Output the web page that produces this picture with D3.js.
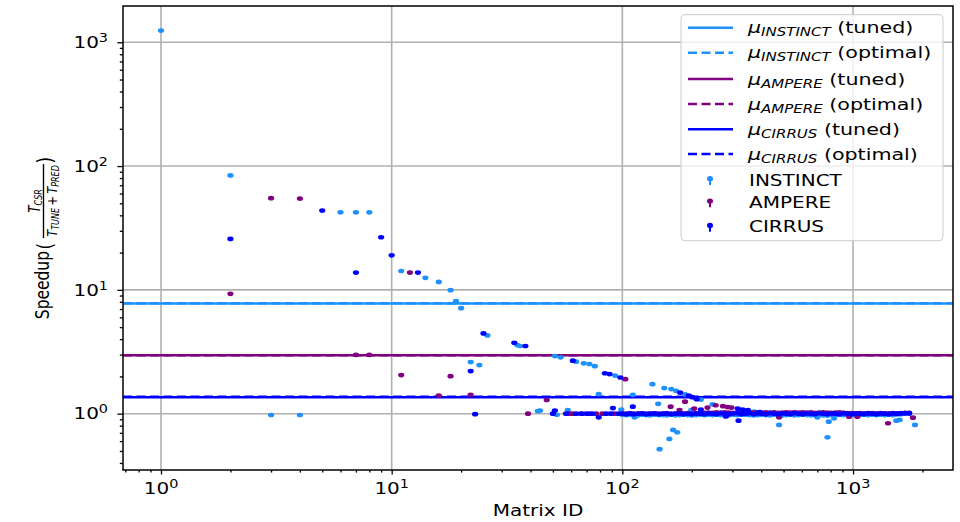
<!DOCTYPE html>
<html>
<head>
<meta charset="utf-8" />
<title>Speedup per matrix</title>
<script src="https://cdn.jsdelivr.net/npm/d3@7"></script>
<style>
  body { margin: 0; background: #fff; }
  text { font-family: "DejaVu Sans", sans-serif; fill: #000; }
</style>
</head>
<body>
<script>
// speedup of tuned format vs CSR, per matrix id (log-log)
var instinctIds  = [1, 2, 3, 4, 6, 7, 8, 11, 14, 16, 18, 19, 20, 22, 24, 26, 35, 36, 43, 44, 51, 52, 54, 58, 63, 68, 72, 76, 79, 93, 99,
                    111, 113, 135, 143, 145, 152, 160, 163, 166, 171, 173, 187, 199, 219, 246, 373, 478, 700, 775, 785, 828, 1540, 1593, 1855];
var instinctVals = [1242, 84, 0.976, 0.976, 42.3, 42.3, 42.3, 14.2, 12.5, 11.6, 9.95, 8.1, 7.12, 2.61, 2.47, 4.29, 3.58, 3.52, 1.05, 1.06, 2.92, 0.98, 2.85, 1.07, 2.63, 2.55, 2.52, 2.42, 1.44, 2.03, 1.08,
                    1.42, 0.935, 1.73, 1.20, 0.517, 1.61, 0.625, 1.58, 0.739, 1.53, 0.708, 1.43, 1.07, 1.30, 1.19, 1.04, 0.811, 0.935, 0.645, 0.862, 0.918, 0.878, 0.89, 0.811];

var ampereIds  = [2, 3, 4, 7, 8, 11, 12, 16, 18, 22, 39, 47, 59, 61, 66, 72, 77, 82, 92, 103,
                  162, 177, 187, 205, 234, 254, 273, 286, 297, 478, 961, 1044, 1418, 1819];
var ampereVals = [9.29, 55, 54.6, 2.99, 2.99, 2.05, 13.8, 1.40, 2.01, 1.42, 1.0, 1.29, 1.0, 1.0, 1.0, 1.0, 1.0, 1.0, 1.0, 1.90,
                  1.14, 1.07, 1.25, 1.10, 1.12, 1.17, 1.15, 1.13, 1.12, 0.935, 0.946, 0.946, 0.837, 0.928];

var cirrusIds  = [2, 5, 7, 9, 10, 13, 22, 23, 25, 34, 38, 50, 51, 57, 61, 63, 67, 70, 74, 79, 84, 85, 88, 89, 91, 96, 98,
                  111, 178, 194, 201, 210, 219, 281, 316, 319, 332, 350, 394];
var cirrusVals = [25.8, 43.7, 13.8, 26.6, 19.0, 13.8, 2.21, 0.99, 4.45, 3.74, 3.52, 1.0, 1.06, 1.0, 2.68, 1.0, 1.0, 1.0, 1.0, 0.935, 2.12, 1.0, 2.09, 1.0, 1.11, 1.0, 1.96,
                  1.14, 1.48, 1.40, 1.36, 1.31, 1.08, 0.95, 1.10, 0.878, 1.08, 1.07, 1.03];

// the crowded run of matrices where all three sit around 1.0
var bandIds = [100, 104, 108, 112, 117, 122, 127, 132, 138, 144,
               150, 156, 163, 170, 177, 184, 192, 200, 209, 218,
               227, 236, 246, 256, 267, 278, 290, 302, 315, 328,
               342, 356, 371, 386, 402, 419, 437, 455, 474, 494,
               514, 536, 558, 581, 605, 630, 657, 684, 712, 742,
               773, 805, 839, 874, 910, 948, 988, 1029, 1072, 1117,
               1163, 1212, 1262, 1315, 1370, 1427, 1486, 1548, 1612, 1680, 1750];
var instinctBand = [0.98, 0.975, 0.98, 0.975, 0.97, 0.98, 0.975, 0.97, 0.98, 0.975,
                    0.975, 0.97, 0.98, 0.97, 0.975, 0.98, 0.975, 0.97, 0.975, 0.98,
                    0.975, 0.98, 0.975, 0.98, 0.975, 0.97, 0.975, 0.98, 0.975, 0.98,
                    0.98, 0.975, 0.97, 0.975, 0.98, 0.975, 0.97, 0.98, 0.975, 0.97,
                    0.975, 0.98, 0.97, 0.975, 0.98, 0.975, 0.97, 0.98, 0.975, 0.97,
                    0.965, 0.975, 0.97, 0.98, 0.975, 0.98, 0.975, 0.98, 0.975, 0.98,
                    0.975, 0.98, 0.975, 0.98, 0.975, 0.98, 0.975, 0.985, 0.99, 1.0, 1.0];
var ampereBand = [1.0, 1.0, 1.005, 1.0, 1.0, 1.005, 1.0, 1.0, 1.005, 1.0,
                  1.0, 1.005, 1.0, 1.0, 1.0, 1.005, 1.01, 1.0, 1.005, 1.01,
                  1.015, 1.02, 1.015, 1.025, 1.02, 1.025, 1.02, 1.015, 1.02, 1.025,
                  1.02, 1.025, 1.02, 1.025, 1.02, 1.025, 1.02, 1.025, 1.015, 1.02,
                  1.025, 1.02, 1.025, 1.02, 1.025, 1.02, 1.025, 1.015, 1.02, 1.025,
                  1.02, 1.015, 1.02, 1.025, 1.015, 1.01, 1.01, 1.005, 1.01, 1.005,
                  1.005, 1.01, 1.005, 1.01, 1.005, 1.005, 1.01, 1.005, 1.01, 1.015, 1.015];
var cirrusBand = [1.0, 0.99, 1.005, 0.99, 1.0, 1.005, 0.99, 1.0, 1.005, 0.99,
                  1.0, 1.005, 0.99, 1.0, 1.005, 0.99, 1.0, 0.99, 1.005, 1.0,
                  0.99, 1.005, 1.0, 0.99, 1.01, 1.0, 0.99, 1.005, 1.01, 0.99,
                  1.0, 1.01, 0.99, 1.005, 1.0, 0.99, 1.01, 1.0, 0.99, 1.005,
                  1.0, 0.99, 1.01, 1.0, 0.99, 1.005, 1.0, 0.99, 1.01, 1.0,
                  0.99, 1.005, 1.0, 0.99, 1.01, 1.0, 0.99, 1.005, 1.0, 0.99,
                  1.01, 1.0, 0.99, 1.005, 1.0, 0.99, 1.005, 1.0, 1.005, 1.01, 1.01];

// mean speedups (horizontal lines)
var gpuNames    = ["INSTINCT", "AMPERE", "CIRRUS"];
var meanTuned   = [7.77, 2.96, 1.36];
var meanOptimal = [7.80, 2.97, 1.37];
var gpuColors   = ["#1e90ff", "#800080", "#0000ff"];

var xMajor = [1, 10, 100, 1000];
var yMajor = [1, 10, 100, 1000];
var tickExp = ["0", "1", "2", "3"];
</script>
<script>
var W = 960, H = 522;
var margin = {top: 6, right: 7, bottom: 52, left: 123},
    width = W - margin.left - margin.right,
    height = H - margin.top - margin.bottom;
var sx = 1.25; // the picture is a bit wider than tall, text too

var svg = d3.select("body").append("svg")
    .attr("width", W)
    .attr("height", H);
var g = svg.append("g")
    .attr("transform", "translate(" + margin.left + "," + margin.top + ")");

var x = d3.scaleLog().domain([0.6843, 2713]).range([0, width]);
var y = d3.scaleLog().domain([0.3508, 1963]).range([height, 0]);

function minors(dom) {
  var out = [];
  for (var k = -1; k <= 3; k++) {
    for (var m = 2; m <= 9; m++) {
      var v = m * Math.pow(10, k);
      if (v > dom[0] && v < dom[1]) out.push(v);
    }
  }
  return out;
}

// grid
g.selectAll(".vgrid").data(xMajor).enter().append("line")
  .attr("x1", function(d) { return x(d); }).attr("x2", function(d) { return x(d); })
  .attr("y1", 0).attr("y2", height)
  .attr("stroke", "#b0b0b0").attr("stroke-width", 1.6);
g.selectAll(".hgrid").data(yMajor).enter().append("line")
  .attr("y1", function(d) { return y(d); }).attr("y2", function(d) { return y(d); })
  .attr("x1", 0).attr("x2", width)
  .attr("stroke", "#b0b0b0").attr("stroke-width", 1.6);

// mean lines
gpuNames.forEach(function(n, i) {
  g.append("line")
    .attr("x1", 0).attr("x2", width)
    .attr("y1", y(meanTuned[i])).attr("y2", y(meanTuned[i]))
    .attr("stroke", gpuColors[i]).attr("stroke-width", 2.5);
  g.append("line")
    .attr("x1", 0).attr("x2", width)
    .attr("y1", y(meanOptimal[i])).attr("y2", y(meanOptimal[i]))
    .attr("stroke", gpuColors[i]).attr("stroke-width", 2.5)
    .attr("stroke-dasharray", "9,4.5");
});

// points
function pts(ids, vals, bIds, bVals) {
  var a = ids.map(function(d, i) { return {id: d, v: vals[i]}; });
  var b = bIds.map(function(d, i) { return {id: d, v: bVals[i]}; });
  return a.concat(b).sort(function(p, q) { return p.id - q.id; });
}
var series = [
  pts(instinctIds, instinctVals, bandIds, instinctBand),
  pts(ampereIds, ampereVals, bandIds, ampereBand),
  pts(cirrusIds, cirrusVals, bandIds, cirrusBand)
];
series.forEach(function(s, i) {
  g.append("g").selectAll("ellipse")
    .data(s)
    .enter()
    .append("ellipse")
      .attr("cx", function(d) { return x(d.id); })
      .attr("cy", function(d) { return y(d.v); })
      .attr("rx", 3.1)
      .attr("ry", 2.35)
      .attr("fill", gpuColors[i]);
});

// axes (ticks only, labels below)
var xa = g.append("g").attr("transform", "translate(0," + height + ")");
xa.call(d3.axisBottom(x).tickValues(xMajor).tickSize(4.5).tickSizeOuter(0).tickFormat(""));
xa.append("g").call(d3.axisBottom(x).tickValues(minors(x.domain())).tickSize(2.6).tickSizeOuter(0).tickFormat(""));
var ya = g.append("g");
ya.call(d3.axisLeft(y).tickValues(yMajor).tickSize(5.6).tickSizeOuter(0).tickFormat(""));
ya.append("g").call(d3.axisLeft(y).tickValues(minors(y.domain())).tickSize(3.2).tickSizeOuter(0).tickFormat(""));
g.selectAll(".domain").remove();
g.selectAll(".tick line").attr("stroke", "#000").attr("stroke-width", 1.3);

function powLabel(t, e) {
  t.append("tspan").text("10");
  t.append("tspan").attr("font-size", 11.5).attr("dy", -6).text(e);
}
xMajor.forEach(function(v, i) {
  var t = g.append("text")
    .attr("transform", "translate(" + x(v) + "," + (height + 24.3) + ") scale(" + sx + ",1)")
    .attr("text-anchor", "middle").attr("font-size", 16);
  powLabel(t, tickExp[i]);
});
yMajor.forEach(function(v, i) {
  var t = g.append("text")
    .attr("transform", "translate(" + (108 - margin.left) + "," + (y(v) + 5.7) + ") scale(" + sx + ",1)")
    .attr("text-anchor", "end").attr("font-size", 16);
  powLabel(t, tickExp[i]);
});

// spines
g.append("rect")
  .attr("width", width).attr("height", height)
  .attr("fill", "none").attr("stroke", "#000").attr("stroke-width", 1.5);

// axis titles
svg.append("text")
  .attr("transform", "translate(" + (margin.left + width / 2) + ",516) scale(" + sx + ",1)")
  .attr("text-anchor", "middle").attr("font-size", 16)
  .text("Matrix ID");

var yl = svg.append("g").attr("transform", "translate(44,240) scale(" + sx + ",1) rotate(-90)");
yl.append("text").attr("x", -11).attr("y", 3.8).attr("text-anchor", "end").attr("font-size", 15.5).text("Speedup");
yl.append("text").attr("x", -9.5).attr("y", 6.5).attr("font-size", 17).text("(");
yl.append("text").attr("x", 76.5).attr("y", 6.5).attr("font-size", 17).text(")");
var num = yl.append("text").attr("x", 39).attr("y", -3.4).attr("text-anchor", "middle")
  .attr("font-size", 12).attr("font-style", "italic");
num.append("tspan").text("T");
num.append("tspan").attr("font-size", 8).attr("dy", 2).text("CSR");
yl.append("line").attr("x1", 2).attr("x2", 76).attr("y1", -0.4).attr("y2", -0.4)
  .attr("stroke", "#000").attr("stroke-width", 1.1);
var den = yl.append("text").attr("x", 39).attr("y", 10.4).attr("text-anchor", "middle")
  .attr("font-size", 11.5).attr("font-style", "italic");
den.append("tspan").text("T");
den.append("tspan").attr("font-size", 8).attr("dy", 2).text("TUNE");
den.append("tspan").attr("dy", -2).attr("font-style", "normal").text("\u2009+\u2009");
den.append("tspan").text("T");
den.append("tspan").attr("font-size", 8).attr("dy", 2).text("PRED");

// legend
var leg = svg.append("g");
leg.append("rect")
  .attr("x", 681).attr("y", 14.7).attr("width", 262).attr("height", 226)
  .attr("rx", 4).attr("fill", "#fff").attr("fill-opacity", 0.8)
  .attr("stroke", "#cccccc").attr("stroke-width", 1);

var lineRows = [27.7, 52.7, 79, 104, 129.3, 154];
var dotRows = [180, 202.3, 226.7];
gpuNames.forEach(function(n, i) {
  ["tuned", "optimal"].forEach(function(kind, j) {
    var ry = lineRows[i * 2 + j];
    leg.append("line")
      .attr("x1", 688).attr("x2", 733).attr("y1", ry).attr("y2", ry)
      .attr("stroke", gpuColors[i]).attr("stroke-width", 2.5)
      .attr("stroke-dasharray", j ? "9,4.5" : null);
    var t = leg.append("text")
      .attr("transform", "translate(748," + (ry + 5.5) + ") scale(" + sx + ",1)")
      .attr("font-size", 16.5);
    t.append("tspan").attr("font-style", "italic").text("\u03bc");
    t.append("tspan").attr("font-style", "italic").attr("font-size", 12).attr("dy", 3).text(n);
    t.append("tspan").attr("dy", -3).text(" (" + kind + ")");
  });
  var dy = dotRows[i];
  leg.append("rect").attr("x", 709).attr("y", dy - 1.3).attr("width", 2).attr("height", 6.3)
    .attr("fill", gpuColors[i]);
  leg.append("ellipse").attr("cx", 710).attr("cy", dy - 1.3).attr("rx", 3).attr("ry", 2.6)
    .attr("fill", gpuColors[i]);
  leg.append("text")
    .attr("transform", "translate(749," + (dy + 5.7) + ") scale(" + sx + ",1)")
    .attr("font-size", 16)
    .text(n);
});
</script>
</body>
</html>
